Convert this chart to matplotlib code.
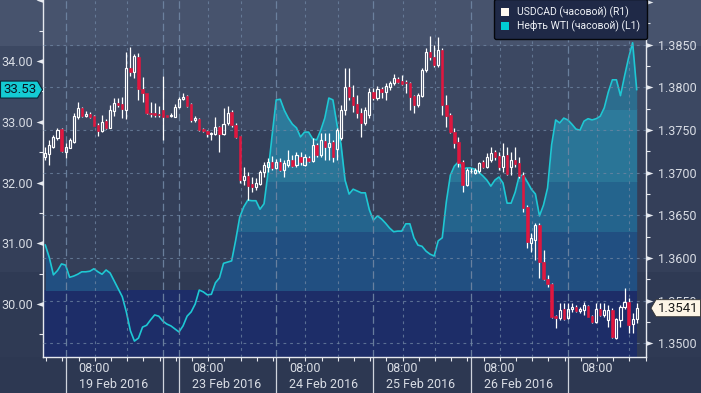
import numpy as np
import matplotlib
matplotlib.use('Agg')
import matplotlib.pyplot as plt
from matplotlib.patches import Rectangle, Polygon, Patch
from matplotlib.path import Path
from matplotlib.ticker import MultipleLocator
from matplotlib import transforms

plt.rcParams['font.family'] = ['Roboto', 'DejaVu Sans']

# hourly index, 0 = 19 Feb 2016 00:00 (weekend hours left out)
hours = np.arange(-5, 142)

# WTI, hourly (left axis, L1)
wti = [
    30.97, 30.76, 30.48, 30.55, 30.66, 30.64, 30.44, 30.46, 30.49, 30.53,
    30.53, 30.54, 30.58, 30.53, 30.49, 30.56, 30.51, 30.38, 30.25, 30.12,
    29.87, 29.56, 29.39, 29.44, 29.62, 29.65, 29.74, 29.82, 29.80, 29.72,
    29.67, 29.64, 29.59, 29.54, 29.64, 29.80, 29.87, 30.00, 30.23, 30.20,
    30.15, 30.16, 30.35, 30.43, 30.67, 30.69, 30.71, 31.05, 31.43, 31.60,
    31.71, 31.70, 31.70, 31.56, 31.65, 32.17, 32.78, 33.36, 33.37, 33.19,
    33.06, 32.96, 32.90, 32.75, 32.83, 32.83, 32.72, 32.70, 32.86, 33.06,
    33.39, 33.36, 32.96, 32.63, 32.04, 31.81, 31.89, 31.86, 31.83, 31.83,
    31.55, 31.38, 31.45, 31.40, 31.33, 31.25, 31.19, 31.20, 31.20, 31.32,
    31.32, 31.09, 30.97, 30.95, 30.87, 30.82, 30.79, 31.04, 31.09, 31.68,
    32.12, 32.27, 32.34, 32.22, 32.24, 32.24, 32.22, 32.17, 32.11, 32.04,
    31.94, 32.04, 32.09, 31.99, 31.66, 31.66, 31.84, 32.11, 32.12, 32.01,
    31.89, 31.81, 31.45, 31.63, 31.91, 32.62, 33.03, 32.98, 33.06, 33.03,
    32.96, 32.88, 32.86, 33.01, 33.05, 33.03, 33.05, 33.09, 33.23, 33.49,
    33.69, 33.69, 33.43, 33.75, 34.05, 34.30, 33.53,
]

# USDCAD hourly candles (right axis, R1)
usdcad_open = [
    1.37185, 1.37217, 1.37302, 1.37404, 1.37506, 1.37244, 1.37291, 1.37361, 1.37654, 1.37760,
    1.37662, 1.37682, 1.37662, 1.37557, 1.37486, 1.37604, 1.37525, 1.37721, 1.37811, 1.37803,
    1.37733, 1.38221, 1.38181, 1.38350, 1.37975, 1.37928, 1.37701, 1.37694, 1.37686, 1.37733,
    1.37670, 1.37662, 1.37654, 1.37764, 1.37858, 1.37897, 1.37799, 1.37612, 1.37627, 1.37506,
    1.37486, 1.37448, 1.37448, 1.37537, 1.37448, 1.37577, 1.37713, 1.37557, 1.37428, 1.36912,
    1.36959, 1.36862, 1.36834, 1.36862, 1.37002, 1.37068, 1.37127, 1.37049, 1.37127, 1.37029,
    1.37088, 1.37147, 1.37088, 1.37182, 1.37088, 1.37166, 1.37135, 1.37322, 1.37205, 1.37369,
    1.37302, 1.37354, 1.37275, 1.37401, 1.37733, 1.38006, 1.37888, 1.37799, 1.37694, 1.37577,
    1.37674, 1.37940, 1.37870, 1.37975, 1.37940, 1.37999, 1.38049, 1.38092, 1.38072, 1.38064,
    1.38045, 1.37897, 1.37791, 1.37897, 1.38201, 1.38416, 1.38357, 1.38260, 1.38436, 1.37791,
    1.37674, 1.37478, 1.37361, 1.37127, 1.36854, 1.37014, 1.36998, 1.37021, 1.37127, 1.37068,
    1.37147, 1.37244, 1.37193, 1.37061, 1.37205, 1.37068, 1.37147, 1.37115, 1.36971, 1.36592,
    1.36177, 1.36209, 1.36385, 1.35955, 1.35748, 1.35693, 1.35318, 1.35291, 1.35397, 1.35291,
    1.35397, 1.35427, 1.35380, 1.35389, 1.35435, 1.35318, 1.35251, 1.35397, 1.35330, 1.35271,
    1.35389, 1.35057, 1.35271, 1.35420, 1.35486, 1.35224, 1.35279,
]
usdcad_high = [
    1.37302, 1.37381, 1.37440, 1.37522, 1.37522, 1.37346, 1.37404, 1.37697, 1.37830, 1.37771,
    1.37721, 1.37713, 1.37674, 1.37577, 1.37674, 1.37624, 1.37791, 1.37870, 1.37870, 1.37888,
    1.38409, 1.38474, 1.38389, 1.38397, 1.38116, 1.37928, 1.37830, 1.37811, 1.37779, 1.38131,
    1.37674, 1.37694, 1.37803, 1.37888, 1.37928, 1.37908, 1.37811, 1.37666, 1.37635, 1.37518,
    1.37498, 1.37478, 1.37654, 1.37545, 1.37752, 1.37779, 1.37733, 1.37577, 1.37431, 1.37068,
    1.37009, 1.36951, 1.36932, 1.37029, 1.37127, 1.37166, 1.37193, 1.37158, 1.37166, 1.37147,
    1.37264, 1.37205, 1.37244, 1.37240, 1.37217, 1.37193, 1.37404, 1.37346, 1.37463, 1.37463,
    1.37463, 1.37381, 1.37522, 1.37791, 1.38225, 1.38225, 1.38026, 1.37908, 1.37756, 1.37768,
    1.37990, 1.37990, 1.38014, 1.38002, 1.38049, 1.38072, 1.38154, 1.38123, 1.38143, 1.38084,
    1.38064, 1.37908, 1.37932, 1.38221, 1.38456, 1.38600, 1.38494, 1.38585, 1.38456, 1.37908,
    1.37694, 1.37518, 1.37420, 1.37147, 1.37049, 1.37049, 1.37056, 1.37127, 1.37147, 1.37225,
    1.37302, 1.37264, 1.37244, 1.37342, 1.37302, 1.37244, 1.37295, 1.37185, 1.37009, 1.36619,
    1.36287, 1.36408, 1.36408, 1.36092, 1.35799, 1.35701, 1.35330, 1.35474, 1.35474, 1.35474,
    1.35467, 1.35447, 1.35420, 1.35486, 1.35447, 1.35330, 1.35474, 1.35467, 1.35474, 1.35447,
    1.35408, 1.35291, 1.35447, 1.35643, 1.35526, 1.35350, 1.35467,
]
usdcad_low = [
    1.37147, 1.37091, 1.37287, 1.37381, 1.37240, 1.37170, 1.37284, 1.37349, 1.37624, 1.37654,
    1.37647, 1.37635, 1.37541, 1.37431, 1.37478, 1.37513, 1.37518, 1.37662, 1.37771, 1.37635,
    1.37624, 1.38131, 1.38104, 1.37850, 1.37830, 1.37689, 1.37654, 1.37654, 1.37647, 1.37381,
    1.37647, 1.37654, 1.37647, 1.37752, 1.37850, 1.37771, 1.37595, 1.37595, 1.37486, 1.37471,
    1.37420, 1.37381, 1.37440, 1.37244, 1.37440, 1.37557, 1.37537, 1.37401, 1.36873, 1.36854,
    1.36678, 1.36775, 1.36795, 1.36854, 1.36951, 1.37009, 1.37029, 1.37041, 1.37018, 1.36951,
    1.37068, 1.37068, 1.37068, 1.37088, 1.37076, 1.37123, 1.37123, 1.37182, 1.37182, 1.37147,
    1.37147, 1.37123, 1.37147, 1.37381, 1.37674, 1.37850, 1.37709, 1.37639, 1.37420, 1.37557,
    1.37639, 1.37850, 1.37850, 1.37874, 1.37850, 1.37967, 1.38026, 1.38045, 1.38026, 1.37928,
    1.37733, 1.37694, 1.37768, 1.37888, 1.38181, 1.38318, 1.38240, 1.38240, 1.37674, 1.37537,
    1.37459, 1.37284, 1.37068, 1.36775, 1.36842, 1.36991, 1.36982, 1.36991, 1.37049, 1.37049,
    1.37127, 1.37147, 1.37029, 1.37009, 1.36971, 1.36971, 1.37068, 1.36932, 1.36541, 1.36112,
    1.36072, 1.35975, 1.35760, 1.35740, 1.35662, 1.35291, 1.35174, 1.35271, 1.35271, 1.35279,
    1.35369, 1.35369, 1.35350, 1.35330, 1.35303, 1.35239, 1.35239, 1.35318, 1.35310, 1.35186,
    1.35057, 1.35045, 1.35186, 1.35397, 1.35115, 1.35115, 1.35239,
]
usdcad_close = [
    1.37232, 1.37322, 1.37416, 1.37498, 1.37255, 1.37302, 1.37381, 1.37662, 1.37752, 1.37662,
    1.37682, 1.37647, 1.37545, 1.37486, 1.37595, 1.37518, 1.37733, 1.37811, 1.37791, 1.37741,
    1.38221, 1.38181, 1.38365, 1.37975, 1.37928, 1.37694, 1.37686, 1.37677, 1.37674, 1.37654,
    1.37654, 1.37674, 1.37764, 1.37858, 1.37881, 1.37779, 1.37615, 1.37635, 1.37498, 1.37486,
    1.37448, 1.37459, 1.37537, 1.37448, 1.37565, 1.37701, 1.37557, 1.37420, 1.36912, 1.36959,
    1.36845, 1.36834, 1.36873, 1.37002, 1.37088, 1.37127, 1.37049, 1.37127, 1.37029, 1.37108,
    1.37147, 1.37080, 1.37205, 1.37123, 1.37182, 1.37135, 1.37322, 1.37205, 1.37381, 1.37302,
    1.37342, 1.37185, 1.37498, 1.37733, 1.38006, 1.37888, 1.37791, 1.37694, 1.37577, 1.37733,
    1.37947, 1.37870, 1.37975, 1.37940, 1.38014, 1.38045, 1.38108, 1.38064, 1.38034, 1.38045,
    1.37888, 1.37791, 1.37908, 1.38201, 1.38416, 1.38357, 1.38260, 1.38436, 1.37791, 1.37662,
    1.37478, 1.37342, 1.37108, 1.36854, 1.37029, 1.37021, 1.37029, 1.37115, 1.37068, 1.37178,
    1.37232, 1.37178, 1.37061, 1.37193, 1.36982, 1.37147, 1.37100, 1.36959, 1.36584, 1.36189,
    1.36229, 1.36385, 1.35955, 1.35748, 1.35693, 1.35310, 1.35291, 1.35389, 1.35279, 1.35400,
    1.35427, 1.35380, 1.35397, 1.35444, 1.35310, 1.35251, 1.35397, 1.35330, 1.35389, 1.35389,
    1.35076, 1.35279, 1.35420, 1.35486, 1.35213, 1.35279, 1.35410,
]

# calendar: start hour of each session day
day_starts = [0, 24, 28, 52, 76, 100, 124]
day_lengths = [24, 4, 24, 24, 24, 24, 24]
day_labels = ['19 Feb 2016', '', '23 Feb 2016', '24 Feb 2016', '25 Feb 2016', '26 Feb 2016', '']
hour_labels = ['08:00', '', '08:00', '08:00', '08:00', '08:00', '08:00']

wti_ticks = [30.0, 31.0, 32.0, 33.0, 34.0]
wti_marks = [30.0, 31.0, 32.0, 33.0, 34.0, 35.0]
usd_ticks = [1.3500, 1.3550, 1.3600, 1.3650, 1.3700, 1.3750, 1.3800, 1.3850]
usd_marks = usd_ticks + [1.3900]

legend_labels = ['USDCAD (часовой) (R1)', 'Нефть WTI (часовой) (L1)']

# --- colours
TXT = '#d9dde5'
AXIS = '#e6e9ef'
GRID = '#7086a3'
CYAN = '#1ec8d4'
RED = '#e0173f'

W, H = 701, 393
fig = plt.figure(figsize=(W / 100, H / 100), dpi=100)
fig.patch.set_facecolor('#2d3852')

# horizontal background bands (pixels from top)
bg_edges = [0, 46, 130, 272, 357, 393]
bg_cols = ['#47536d', '#3c4862', '#343f59', '#2f3a54', '#2d3852']
for top, bot, col in zip(bg_edges[:-1], bg_edges[1:], bg_cols):
    fig.patches.append(Rectangle((0, 1 - bot / H), 1, (bot - top) / H,
                                 transform=fig.transFigure, color=col,
                                 lw=0, zorder=-10))

ax = fig.add_axes([43.3 / W, 36 / H, (646 - 43.3) / W, 357 / H])
ax.patch.set_visible(False)
ax2 = ax.twinx()

t = hours
w = np.array(wti)
o = np.array(usdcad_open)
hi = np.array(usdcad_high)
lo = np.array(usdcad_low)
c = np.array(usdcad_close)

xlim = (-5.5, 143.3)
wlim = (29.128, 35.004)
ulim = (1.34838, 1.39022)
ax.set_xlim(*xlim)
ax.set_ylim(*wlim)
ax2.set_ylim(*ulim)

# navy floor band across the data range
xfrac = (t[-1] + 0.1 - xlim[0]) / (xlim[1] - xlim[0])
ax.axhspan(wlim[0], 30.23, xmin=0, xmax=xfrac, color='#1d2d68', lw=0, zorder=0.5)

# area under WTI, banded
band_edges = [30.23, 31.20, 32.03, 32.86, 33.21, 36.0]
band_cols = ['#214f81', '#24648d', '#2a7597', '#2d7a9b', '#2c6d8e']
for b0, b1, col in zip(band_edges[:-1], band_edges[1:], band_cols):
    poly = ax.fill_between(t, wlim[0], w, color=col, lw=0, zorder=1)
    clip = Rectangle((xlim[0], b0), xlim[1] - xlim[0], b1 - b0, transform=ax.transData)
    poly.set_clip_path(clip)

ax.plot(t, w, color=CYAN, lw=1.2, zorder=3, solid_joinstyle='round')

# grid (follows right axis)
ax2.set_axisbelow(True)
ax2.set_yticks(usd_ticks, labels=[f'{v:.4f}' for v in usd_ticks])
ax2.yaxis.grid(True, color=GRID, lw=0.8, ls=(0, (2.5, 3.5)), alpha=0.75)
for b, n in zip(day_starts, day_lengths):
    ax2.axvline(b, color=GRID, lw=0.9, ls=(0, (6, 3)), alpha=0.9, zorder=0.6)
    for off in (7.2, 15.2):
        if off < n and b + off < xlim[1]:
            ax2.axvline(b + off, color=GRID, lw=0.8, ls=(0, (2.5, 3.5)), alpha=0.75, zorder=0.6)

# candles
up = c >= o
body_lo = np.minimum(o, c)
body_hi = np.maximum(o, c)
ax2.vlines(t, body_hi, hi, color='white', lw=0.9, zorder=2)
ax2.vlines(t, lo, body_lo, color='white', lw=0.9, zorder=2)
ax2.bar(t[up], (body_hi - body_lo)[up], bottom=body_lo[up], width=0.52,
        facecolor='none', edgecolor='white', lw=0.85, zorder=3)
ax2.bar(t[~up], (body_hi - body_lo)[~up], bottom=body_lo[~up], width=0.6,
        facecolor=RED, edgecolor=RED, lw=0.4, zorder=3)

# spines
for s in ('top', 'right'):
    ax.spines[s].set_visible(False)
for s in ('top', 'left', 'bottom'):
    ax2.spines[s].set_visible(False)
for sp in (ax.spines['left'], ax.spines['bottom'], ax2.spines['right']):
    sp.set_color(AXIS)
    sp.set_linewidth(1.0)

# y ticks
ax.set_yticks(wti_ticks, labels=[f'{v:.2f}' for v in wti_ticks])
ax.yaxis.set_minor_locator(MultipleLocator(0.5))
ax2.yaxis.set_minor_locator(MultipleLocator(0.0025))
ax.tick_params(axis='y', which='major', length=0, pad=7.4, labelsize=9, labelcolor=TXT)
ax2.tick_params(axis='y', which='major', length=0, pad=8.4, labelsize=9, labelcolor=TXT)
for a in (ax, ax2):
    a.tick_params(axis='y', which='minor', length=2.9, width=0.8, color=AXIS, direction='out')

left_tri = Path([(0, -0.35), (-1, 0), (0, 0.35), (0, -0.35)], closed=True)
right_tri = Path([(0, -0.35), (1, 0), (0, 0.35), (0, -0.35)], closed=True)
ax.plot(np.zeros(len(wti_marks)), wti_marks, ls='none', marker=left_tri, ms=10, mew=0,
        color=AXIS, transform=ax.get_yaxis_transform(), clip_on=False, zorder=5)
ax2.plot(np.ones(len(usd_marks)), usd_marks, ls='none', marker=right_tri, ms=10, mew=0,
         color=AXIS, transform=ax2.get_yaxis_transform(), clip_on=False, zorder=5)

# x ticks every 4 hours
xt = []
for b, n in zip([-24] + day_starts, [24] + day_lengths):
    k = b + 3.2
    while k < b + n:
        if xlim[0] < k < xlim[1]:
            xt.append(k)
        k += 4
ax.set_xticks(xt, labels=[''] * len(xt))
ax.tick_params(axis='x', which='major', length=2.9, width=0.8, color=AXIS, direction='out')

xtr = ax.get_xaxis_transform()
ax.vlines(day_starts, -36 / 357, 0, transform=xtr, color='#cfd4dd', lw=0.9, clip_on=False)
for b, hl, dl in zip(day_starts, hour_labels, day_labels):
    if hl:
        ax.text(b + 3.2, -11 / 357, hl, transform=xtr, ha='left', va='center',
                fontsize=9, color=TXT)
    if dl:
        ax.text(b + 3.2, -28 / 357, dl, transform=xtr, ha='left', va='center',
                fontsize=9, color=TXT)

# legend
handles = [Patch(facecolor='#fff9f0', edgecolor='none'),
           Patch(facecolor='#00cdd5', edgecolor='none')]
leg = fig.legend(handles, legend_labels, loc='upper right',
                 bbox_to_anchor=(647 / W, 1 + 1 / H), bbox_transform=fig.transFigure,
                 fontsize=7.5, frameon=True, facecolor='#1f2947', edgecolor='#05070c',
                 framealpha=1, handlelength=0.8, handleheight=0.8, handletextpad=0.7,
                 borderpad=0.7, labelspacing=0.25, borderaxespad=0, labelcolor='#eef1f6')
leg.get_frame().set_linewidth(1.0)

# last-value tags
ident = transforms.IdentityTransform()
yw = ax.transData.transform((0, wti[-1]))[1]
fig.patches.append(Polygon([[0.5, yw - 8.5], [37.5, yw - 8.5], [42.5, yw],
                            [37.5, yw + 8.5], [0.5, yw + 8.5]], closed=True,
                           transform=ident, facecolor='#14cbd3', edgecolor='#0b2636',
                           lw=0.8, zorder=10))
fig.text(19.5, yw, f'{wti[-1]:.2f}', transform=ident, ha='center', va='center',
         fontsize=9.5, color='#0a1420', zorder=11)

yu = ax2.transData.transform((0, usdcad_close[-1]))[1]
fig.patches.append(Polygon([[651, yu], [656, yu + 8.5], [700.5, yu + 8.5],
                            [700.5, yu - 8.5], [656, yu - 8.5]], closed=True,
                           transform=ident, facecolor='#fdf5e6', edgecolor='#333333',
                           lw=0.6, zorder=10))
fig.text(678, yu, f'{usdcad_close[-1]:.4f}', transform=ident, ha='center', va='center',
         fontsize=9.5, color='#1b1b1b', zorder=11)

fig.savefig('out.png', dpi=100, facecolor=fig.get_facecolor())
